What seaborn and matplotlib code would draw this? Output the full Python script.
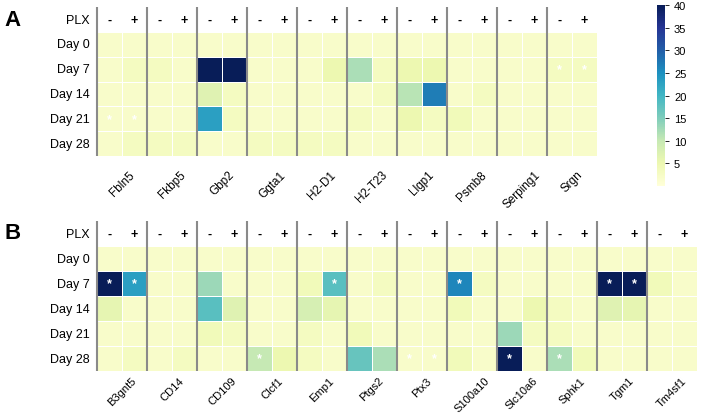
import numpy as np
import pandas as pd
import seaborn as sns
import matplotlib.pyplot as plt

plt.rcParams['font.family'] = ['Liberation Sans', 'DejaVu Sans']

days = ["Day 0", "Day 7", "Day 14", "Day 21", "Day 28"]
plx = ["-", "+"]

genes_a = ["Fbln5", "Fkbp5", "Gbp2", "Ggta1", "H2-D1", "H2-T23", "Llgp1", "Psmb8", "Serping1", "Srgn"]
# one row per day, two columns (PLX -, +) per gene
vals_a = [
    [2, 2, 2, 2, 2, 2, 2, 2, 2, 2, 2, 2, 2, 2, 2, 2, 2, 2, 2, 2],
    [2, 3, 3, 2, 40, 40, 2, 2, 2, 5, 12, 3, 5, 5, 2, 2, 2, 2, 3, 3],
    [2, 2, 2, 2, 7, 3, 2, 2, 2, 2, 2, 3, 11, 27, 2, 3, 2, 2, 2, 2],
    [2, 2, 2, 2, 23, 3, 2, 2, 2, 2, 3, 2, 5, 3, 4, 2, 2, 2, 2, 2],
    [2, 3, 3, 3, 2, 2, 3, 3, 3, 3, 2, 2, 2, 2, 2, 2, 2, 2, 2, 2],
]
stars_a = [("Fbln5", "-", "Day 21"), ("Fbln5", "+", "Day 21"),
           ("Srgn", "-", "Day 7"), ("Srgn", "+", "Day 7")]

genes_b = ["B3gnt5", "CD14", "CD109", "Clcf1", "Emp1", "Ptgs2", "Ptx3", "S100a10",
           "Slc10a6", "Sphk1", "Tgm1", "Tm4sf1"]
vals_b = [
    [2, 2, 2, 2, 2, 2, 2, 2, 2, 2, 2, 2, 2, 2, 2, 2, 2, 2, 2, 2, 2, 2, 2, 2],
    [40, 23, 2, 2, 13, 2, 2, 2, 4, 18, 2, 3, 2, 2, 26, 3, 2, 2, 2, 2, 40, 40, 4, 2],
    [6, 2, 2, 2, 18, 7, 2, 2, 8, 6, 2, 2, 2, 2, 4, 2, 2, 5, 3, 2, 7, 6, 2, 2],
    [2, 2, 2, 2, 4, 3, 2, 2, 3, 2, 4, 2, 2, 2, 2, 2, 13, 3, 3, 2, 2, 2, 2, 2],
    [2, 3, 2, 3, 2, 2, 10, 5, 3, 2, 17, 12, 2, 2, 4, 2, 40, 2, 12, 4, 2, 2, 2, 2],
]
stars_b = [("B3gnt5", "-", "Day 7"), ("B3gnt5", "+", "Day 7"), ("Emp1", "+", "Day 7"),
           ("S100a10", "-", "Day 7"), ("Tgm1", "-", "Day 7"), ("Tgm1", "+", "Day 7"),
           ("Clcf1", "-", "Day 28"), ("Ptx3", "-", "Day 28"), ("Ptx3", "+", "Day 28"),
           ("Slc10a6", "-", "Day 28"), ("Sphk1", "-", "Day 28")]


def draw_panel(ax, genes, vals, stars, cbar_ax=None, xpad=9, xsize=8.5):
    cols = [g + " " + s for g in genes for s in plx]
    df = pd.DataFrame(vals, index=days, columns=cols)
    annot = pd.DataFrame("", index=days, columns=cols)
    for g, s, d in stars:
        annot.loc[d, g + " " + s] = "*"
    sns.heatmap(df, ax=ax, cmap="YlGnBu", vmin=0, vmax=40, linewidths=0.6, linecolor="white",
                annot=annot.values, fmt="", annot_kws={"color": "white", "fontsize": 9, "fontweight": "bold"},
                cbar=cbar_ax is not None, cbar_ax=cbar_ax)
    ax.set_xlabel("")
    ax.set_ylabel("")
    ax.set_xticks(np.arange(len(genes)) * 2 + 1)
    ax.set_xticklabels(genes, rotation=45, ha="center", va="top", fontsize=xsize)
    ax.set_yticklabels(days, rotation=0, fontsize=9)
    ax.tick_params(length=0)
    ax.tick_params(axis="x", pad=xpad)
    ax.tick_params(axis="y", pad=5)
    for i, c in enumerate(cols):
        ax.text(i + 0.5, -0.5, plx[i % 2], ha="center", va="center", fontsize=9, fontweight="bold")
    ax.text(-0.28, -0.5, "PLX", ha="right", va="center", fontsize=9)
    ax.vlines(np.arange(len(genes)) * 2, 5, -1.0, colors="#8a8a8a", lw=1.5, clip_on=False)


fig = plt.figure(figsize=(7.02, 4.14), dpi=100)
ax_a = fig.add_axes([0.1382, 0.6208, 0.7123, 0.2995])
ax_b = fig.add_axes([0.1382, 0.1014, 0.8547, 0.3019])
cax = fig.add_axes([0.9359, 0.5483, 0.0114, 0.4372])

draw_panel(ax_a, genes_a, vals_a, stars_a, cbar_ax=cax)
draw_panel(ax_b, genes_b, vals_b, stars_b, xpad=3, xsize=8)

cbar = ax_a.collections[0].colorbar
cbar.set_ticks(range(5, 45, 5))
cbar.ax.tick_params(labelsize=8, length=3, width=0.6)

fig.text(0.0185, 0.950, "A", fontsize=16, fontweight="bold", ha="center", va="center")
fig.text(0.0185, 0.437, "B", fontsize=16, fontweight="bold", ha="center", va="center")

fig.savefig("out.png", dpi=100)
